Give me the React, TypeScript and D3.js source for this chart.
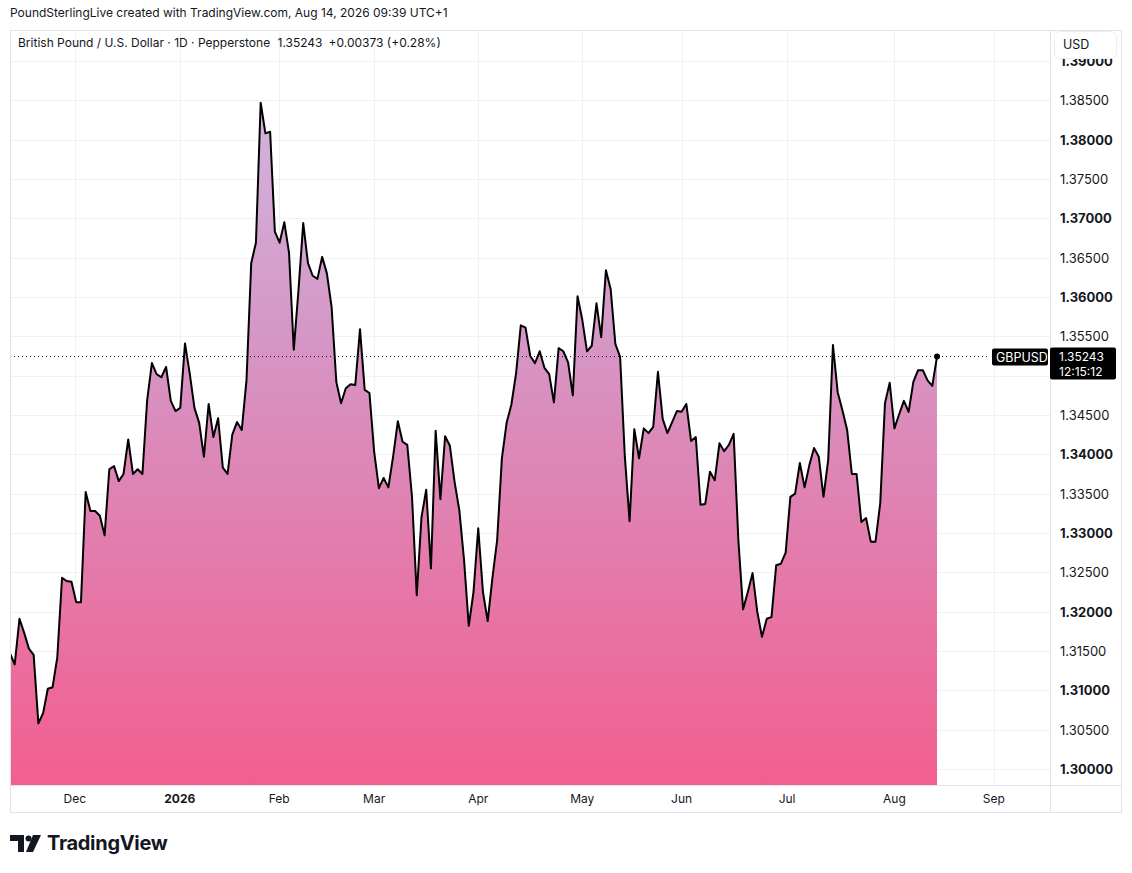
import React from "react";
import * as d3 from "d3";

// daily closes (oldest first)
const closes: number[] = [
  1.3147, 1.3133, 1.3191, 1.3173, 1.3153, 1.3145, 1.3058, 1.3071, 1.3102, 1.3104,
  1.3142, 1.3243, 1.3239, 1.3238, 1.3212, 1.3212, 1.3352, 1.3328, 1.3328, 1.3322,
  1.3297, 1.3381, 1.3385, 1.3366, 1.3375, 1.3419, 1.3375, 1.3381, 1.3375, 1.3469,
  1.3516, 1.3502, 1.3498, 1.3511, 1.3468, 1.3455, 1.3459, 1.3541, 1.3503, 1.3459,
  1.344, 1.3397, 1.3464, 1.3422, 1.3446, 1.3383, 1.3375, 1.3425, 1.3441, 1.3431,
  1.3494, 1.3643, 1.3669, 1.3847, 1.3808, 1.381, 1.3683, 1.3669, 1.3695, 1.3656,
  1.3533, 1.3609, 1.3694, 1.3643, 1.3627, 1.3623, 1.3651, 1.363, 1.3587, 1.3492,
  1.3465, 1.3484, 1.3489, 1.3488, 1.3559, 1.3482, 1.3478, 1.3403, 1.3357, 1.337,
  1.3358, 1.3397, 1.3442, 1.3416, 1.3412, 1.3346, 1.3221, 1.332, 1.3355, 1.3255,
  1.343, 1.3343, 1.3423, 1.3411, 1.3365, 1.3329, 1.3266, 1.3182, 1.3225, 1.3306,
  1.3225, 1.3188, 1.3243, 1.3291, 1.3395, 1.344, 1.3463, 1.3503, 1.3564, 1.3561,
  1.3525, 1.3516, 1.3531, 1.351, 1.3502, 1.3466, 1.3535, 1.3531, 1.3517, 1.3475,
  1.3601, 1.3571, 1.3531, 1.3538, 1.3592, 1.3549, 1.3634, 1.361, 1.354, 1.3524,
  1.3397, 1.3315, 1.3432, 1.3395, 1.3433, 1.3427, 1.3435, 1.3505, 1.3445, 1.3427,
  1.3441, 1.3455, 1.3454, 1.3464, 1.3417, 1.3422, 1.3336, 1.3337, 1.3378, 1.3367,
  1.3414, 1.3404, 1.3412, 1.3426, 1.3291, 1.3203, 1.3225, 1.3249, 1.32, 1.3168,
  1.3191, 1.3193, 1.3259, 1.3261, 1.3275, 1.3346, 1.335, 1.3389, 1.3358, 1.3386,
  1.3408, 1.3397, 1.3346, 1.3393, 1.3539, 1.3479, 1.3456, 1.3431, 1.3375, 1.3375,
  1.3314, 1.3319, 1.3289, 1.3289, 1.3338, 1.3465, 1.3491, 1.3433, 1.3451, 1.3468,
  1.3454, 1.3492, 1.3507, 1.3507, 1.3494, 1.3487, 1.35243,
];

const monthLabels = ["Dec", "2026", "Feb", "Mar", "Apr", "May", "Jun", "Jul", "Aug", "Sep"];
const monthIndex = [13.7, 35.9, 56.9, 77, 99, 121, 142, 164.3, 187, 208];

const priceTicks = d3.range(1.3, 1.3901, 0.005);
const lastPrice = 1.35243;

const W = 1132;
const H = 873;
const plot = { left: 10, right: 1050, top: 30, bottom: 785 };

export default function App() {
  const x = d3.scaleLinear().domain([0, closes.length - 1]).range([10, 937]);
  const y = d3.scaleLinear().domain([1.3, 1.39]).range([769, 61]);

  const line = d3
    .line<number>()
    .x((_, i) => x(i))
    .y((d) => y(d));
  const area = d3
    .area<number>()
    .x((_, i) => x(i))
    .y0(plot.bottom)
    .y1((d) => y(d));

  const font = "Inter, 'Noto Sans', sans-serif";
  const lastY = y(lastPrice);
  // ticks hidden under the last-price label
  const visibleTicks = priceTicks.filter((p) => Math.abs(y(p) - (lastY + 7)) > 24);

  return (
    <svg
      width={W}
      height={H}
      style={{ position: "fixed", left: 0, top: 0, background: "#fff", fontFamily: font }}
    >
      <defs>
        <linearGradient id="fillGrad" x1="0" y1={y(1.385)} x2="0" y2={plot.bottom} gradientUnits="userSpaceOnUse">
          <stop offset="0" stopColor="#d4b4de" />
          <stop offset="0.35" stopColor="#d596c6" />
          <stop offset="1" stopColor="#f25f8f" />
        </linearGradient>
        <clipPath id="plotClip">
          <rect x={plot.left} y={plot.top} width={plot.right - plot.left} height={plot.bottom - plot.top} />
        </clipPath>
      </defs>

      <text x={10} y={17} fontSize={12} fill="#131722">
        PoundSterlingLive created with TradingView.com, Aug 14, 2026 09:39 UTC+1
      </text>

      {/* grid */}
      <g clipPath="url(#plotClip)" stroke="#f0f1f4" strokeWidth={1}>
        {priceTicks.map((p) => (
          <line key={p} x1={plot.left} x2={plot.right} y1={Math.round(y(p)) + 0.5} y2={Math.round(y(p)) + 0.5} />
        ))}
        {monthIndex.map((m) => (
          <line key={m} x1={Math.round(x(m)) + 0.5} x2={Math.round(x(m)) + 0.5} y1={plot.top} y2={plot.bottom} />
        ))}
      </g>

      <g clipPath="url(#plotClip)">
        <path d={area(closes) ?? ""} fill="url(#fillGrad)" />
        <path d={line(closes) ?? ""} fill="none" stroke="#000" strokeWidth={2} strokeLinejoin="round" />
        <circle cx={x(closes.length - 1)} cy={lastY} r={3} fill="#000" />
      </g>

      {/* last price dotted line */}
      <line x1={plot.left} x2={990} y1={lastY} y2={lastY} stroke="#131722" strokeWidth={1} strokeDasharray="1 3" />

      {/* frame */}
      <rect x={10.5} y={30.5} width={1111} height={782} fill="none" stroke="#e0e3eb" />
      <line x1={plot.right + 0.5} x2={plot.right + 0.5} y1={30} y2={812} stroke="#e0e3eb" />
      <line x1={10} x2={1122} y1={plot.bottom + 0.5} y2={plot.bottom + 0.5} stroke="#e0e3eb" />

      <text x={18} y={47} fontSize={12} fill="#131722">
        British Pound / U.S. Dollar · 1D · Pepperstone{"  "}
        <tspan dx={4}>1.35243</tspan>
        <tspan dx={6}>+0.00373 (+0.28%)</tspan>
      </text>

      {/* price axis */}
      <g fontSize={13} fill="#131722">
        {visibleTicks.map((p) => {
          const whole = Math.abs(Math.round(p * 100) - p * 100) < 1e-6;
          return (
            <text key={p} x={1060} y={y(p) + 5} fontWeight={whole ? 700 : 400}>
              {p.toFixed(5)}
            </text>
          );
        })}
      </g>
      <rect x={1054.5} y={31.5} width={62} height={27} rx={6} fill="#fff" stroke="#eceef2" />
      <text x={1063} y={49} fontSize={12.5} fill="#131722">USD</text>

      {/* last price labels */}
      <rect x={992} y={lastY - 8} width={56} height={17} rx={2} fill="#000" />
      <text x={996} y={lastY + 5} fontSize={12.5} fill="#fff">GBPUSD</text>
      <rect x={1050} y={lastY - 9} width={66} height={32} rx={2} fill="#000" />
      <text x={1059} y={lastY + 4} fontSize={12} fill="#fff">{lastPrice.toFixed(5)}</text>
      <text x={1059} y={lastY + 19} fontSize={12} fill="#fff">12:15:12</text>

      {/* time axis */}
      <g fontSize={12} fill="#131722" textAnchor="middle">
        {monthLabels.map((m, i) => (
          <text key={m} x={x(monthIndex[i])} y={803} fontWeight={m === "2026" ? 700 : 400}>
            {m}
          </text>
        ))}
      </g>

      {/* TradingView logo */}
      <g fill="#131722">
        <path d="M10 835 h14 v17 h-6 v-11 h-8 z" />
        <circle cx={28.5} cy={838.5} r={3} />
        <path d="M33 835 h8 l-8 17 h-7 z" />
        <text x={47} y={850} fontSize={20} fontWeight={700} letterSpacing={-0.3}>TradingView</text>
      </g>
    </svg>
  );
}
